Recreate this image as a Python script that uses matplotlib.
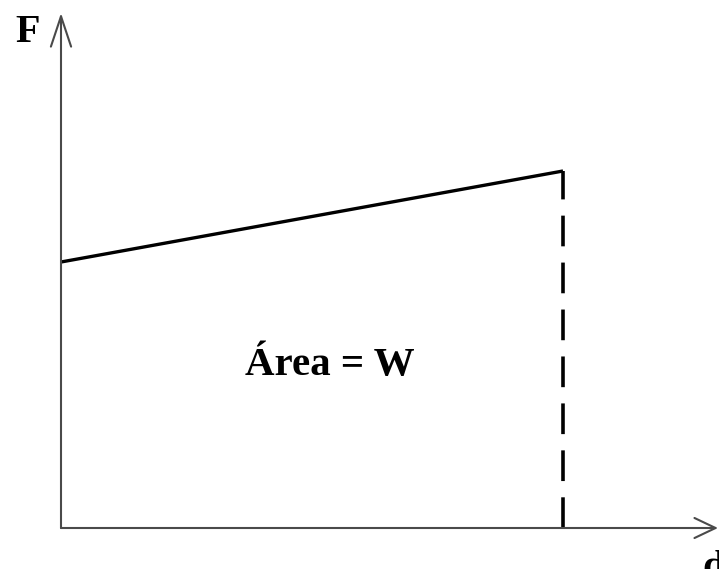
import matplotlib
matplotlib.use("Agg")
import matplotlib.pyplot as plt

# work done by a force that grows linearly with displacement
d_vals = [0, 502]
F_vals = [266, 357]
d_end = d_vals[-1]

# axis extents (same units as the data)
d_max = 657
F_max = 515

plt.rcParams['font.family'] = ['Liberation Serif', 'DejaVu Serif']

fig = plt.figure(figsize=(7.19, 5.69), dpi=100)
ax = fig.add_axes([0, 0, 1, 1])
ax.set_xlim(-61, 658)
ax.set_ylim(-41, 528)
ax.axis('off')

axis_col = '#4a4a4a'
# axes with open arrowheads
ax.annotate('', xy=(0, F_max), xytext=(0, 0),
            arrowprops=dict(arrowstyle='->,head_length=0.42,head_width=0.14',
                            mutation_scale=52, lw=1.5, color=axis_col,
                            shrinkA=0, shrinkB=0))
ax.annotate('', xy=(d_max, 0), xytext=(0, 0),
            arrowprops=dict(arrowstyle='->,head_length=0.4,head_width=0.19',
                            mutation_scale=38, lw=1.5, color=axis_col,
                            shrinkA=0, shrinkB=0))

# F(d)
ax.plot(d_vals, F_vals, color='black', lw=2.4, solid_capstyle='butt')
# dashed drop at the end
ax.plot([d_end, d_end], [0, F_vals[-1]], color='black', lw=2.6,
        linestyle=(0, (8.5, 4.5)))

ax.text(-46, 486, 'F', fontsize=29, fontweight='bold', ha='left', va='baseline')
ax.text(641, -50, 'd', fontsize=29, fontweight='bold', ha='left', va='baseline')
ax.text(269, 153, 'Área = W', fontsize=29.5, fontweight='bold', ha='center', va='baseline')

fig.savefig('out.png', dpi=100)
